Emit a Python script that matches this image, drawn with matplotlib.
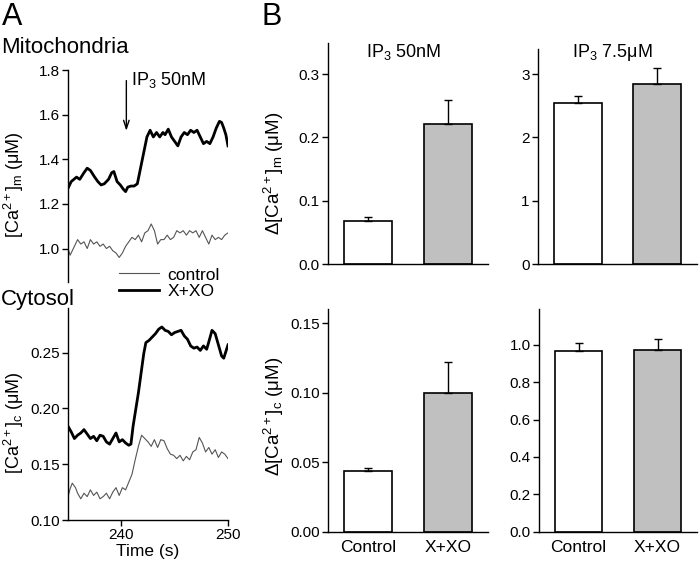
import matplotlib
matplotlib.use("Agg")
import matplotlib.pyplot as plt

plt.rcParams['font.family'] = ['Liberation Sans', 'DejaVu Sans']
plt.rcParams['mathtext.fontset'] = 'custom'
plt.rcParams['mathtext.rm'] = 'Liberation Sans'
plt.rcParams['mathtext.it'] = 'Liberation Sans:italic'
plt.rcParams['axes.linewidth'] = 1.0

# ---- traces (panel A) ----
mito_xo_t = [235.0, 235.3, 235.8, 236.1, 236.5, 236.8, 237.1, 237.5, 237.8, 238.1,
             238.4, 238.8, 239.1, 239.3, 239.6, 239.9, 240.2, 240.4, 240.6, 240.9,
             241.2, 241.5, 241.8, 242.1, 242.4, 242.7, 243.0, 243.3, 243.6, 243.9,
             244.1, 244.4, 244.7, 245.0, 245.3, 245.6, 245.9, 246.2, 246.5, 246.8,
             247.1, 247.4, 247.7, 248.0, 248.3, 248.6, 248.9, 249.2, 249.4, 249.6,
             249.8, 250.0]
mito_xo = [1.27, 1.30, 1.32, 1.31, 1.34, 1.36, 1.35, 1.32, 1.30, 1.285,
           1.29, 1.31, 1.34, 1.345, 1.30, 1.285, 1.265, 1.255, 1.275, 1.28,
           1.28, 1.29, 1.36, 1.43, 1.50, 1.53, 1.50, 1.52, 1.50, 1.52,
           1.51, 1.535, 1.50, 1.48, 1.46, 1.50, 1.52, 1.51, 1.53, 1.52,
           1.53, 1.50, 1.47, 1.48, 1.47, 1.50, 1.54, 1.57, 1.565, 1.54,
           1.51, 1.46]

mito_ctl_t = [235.0, 235.2, 235.5, 235.9, 236.2, 236.5, 236.8, 237.1, 237.4, 237.7,
              238.0, 238.3, 238.6, 238.9, 239.2, 239.5, 239.8, 240.1, 240.4, 240.7,
              241.0, 241.3, 241.6, 241.9, 242.2, 242.5, 242.8, 243.1, 243.4, 243.7,
              244.0, 244.3, 244.6, 244.9, 245.2, 245.5, 245.8, 246.1, 246.4, 246.7,
              247.0, 247.3, 247.6, 247.9, 248.2, 248.5, 248.8, 249.1, 249.4, 249.7,
              250.0]
mito_ctl = [1.00, 0.97, 1.00, 1.04, 1.02, 1.03, 1.00, 1.04, 1.02, 1.03,
            1.01, 1.02, 1.00, 1.01, 0.99, 0.98, 0.96, 0.98, 1.01, 1.03,
            1.05, 1.04, 1.06, 1.03, 1.07, 1.08, 1.11, 1.08, 1.02, 1.04,
            1.04, 1.06, 1.04, 1.05, 1.08, 1.07, 1.08, 1.06, 1.08, 1.07,
            1.08, 1.05, 1.08, 1.05, 1.02, 1.06, 1.04, 1.05, 1.04, 1.06,
            1.07]

cyto_xo_t = [235.0, 235.3, 235.6, 235.9, 236.2, 236.5, 236.8, 237.1, 237.4, 237.7,
             238.0, 238.3, 238.6, 238.9, 239.2, 239.5, 239.8, 240.1, 240.4, 240.7,
             240.9, 241.1, 241.4, 241.6, 241.9, 242.1, 242.3, 242.6, 242.9, 243.2,
             243.5, 243.8, 244.1, 244.4, 244.7, 245.0, 245.3, 245.6, 245.9, 246.2,
             246.5, 246.8, 247.1, 247.4, 247.7, 248.0, 248.3, 248.5, 248.8, 249.1,
             249.4, 249.6, 249.8, 250.0]
cyto_xo = [0.184, 0.179, 0.173, 0.176, 0.178, 0.181, 0.177, 0.173, 0.175, 0.171,
           0.176, 0.175, 0.170, 0.168, 0.173, 0.178, 0.170, 0.172, 0.169, 0.167,
           0.168, 0.184, 0.202, 0.214, 0.235, 0.249, 0.259, 0.261, 0.264, 0.267,
           0.271, 0.273, 0.270, 0.269, 0.266, 0.268, 0.269, 0.270, 0.265, 0.262,
           0.256, 0.254, 0.255, 0.252, 0.256, 0.253, 0.263, 0.270, 0.267, 0.257,
           0.247, 0.245, 0.251, 0.257]

cyto_ctl_t = [235.0, 235.2, 235.4, 235.7, 235.9, 236.2, 236.5, 236.8, 237.1, 237.4,
              237.7, 238.0, 238.3, 238.6, 238.9, 239.2, 239.5, 239.8, 240.1, 240.4,
              240.7, 241.0, 241.3, 241.6, 241.9, 242.2, 242.5, 242.8, 243.1, 243.4,
              243.7, 244.0, 244.3, 244.6, 244.9, 245.2, 245.5, 245.8, 246.1, 246.4,
              246.7, 247.0, 247.3, 247.6, 247.9, 248.2, 248.5, 248.8, 249.1, 249.4,
              249.7, 250.0]
cyto_ctl = [0.121, 0.128, 0.133, 0.129, 0.124, 0.119, 0.124, 0.121, 0.127, 0.122,
            0.125, 0.119, 0.121, 0.124, 0.119, 0.125, 0.129, 0.122, 0.129, 0.127,
            0.134, 0.141, 0.154, 0.166, 0.176, 0.173, 0.170, 0.166, 0.172, 0.165,
            0.172, 0.171, 0.164, 0.159, 0.158, 0.155, 0.158, 0.153, 0.157, 0.154,
            0.161, 0.163, 0.174, 0.169, 0.161, 0.165, 0.159, 0.163, 0.156, 0.161,
            0.159, 0.155]

# ---- bars (panel B) ----
groups = ['Control', 'X+XO']
mito_50nM = [0.068, 0.222]
mito_50nM_err = [0.006, 0.037]
mito_75uM = [2.55, 2.84]
mito_75uM_err = [0.11, 0.26]
cyto_50nM = [0.044, 0.0997]
cyto_50nM_err = [0.0019, 0.0226]
cyto_75uM = [0.967, 0.974]
cyto_75uM_err = [0.041, 0.057]

W, H = 700, 563
fig = plt.figure(figsize=(7, 5.63), dpi=100)


def box(x0, y0, x1, y1):
    # pixel box (top-left origin) -> figure fraction
    return [x0 / W, 1 - y1 / H, (x1 - x0) / W, (y1 - y0) / H]


def style(ax):
    for s in ['top', 'right']:
        ax.spines[s].set_visible(False)
    ax.tick_params(direction='out', length=4, width=1, labelsize=11, pad=2)


# Mitochondria trace
ax1 = fig.add_axes(box(68, 70, 228, 282))
style(ax1)
ax1.plot(mito_ctl_t, mito_ctl, color='#555555', lw=0.8)
ax1.plot(mito_xo_t, mito_xo, color='black', lw=2)
ax1.set_xlim(235, 250)
ax1.set_ylim(0.85, 1.8)
ax1.set_yticks([1.0, 1.2, 1.4, 1.6, 1.8])
ax1.set_yticklabels(['1.0', '1.2', '1.4', '1.6', '1.8'])
ax1.spines['bottom'].set_visible(False)
ax1.set_xticks([])
ax1.set_ylabel('[Ca$^{2+}$]$_{\\mathrm{m}}$ (\u03bcM)', fontsize=13)
ax1.yaxis.set_label_coords(-0.265, 0.46)
ax1.annotate('', xy=(240.47, 1.515), xytext=(240.47, 1.765),
             arrowprops=dict(arrowstyle='->,head_length=0.6,head_width=0.2',
                             lw=1, color='black'))
ax1.text(240.9, 1.757, 'IP$_3$ 50nM', fontsize=13, va='center', ha='left')

# Cytosol trace
ax2 = fig.add_axes(box(68, 308, 228, 520))
style(ax2)
l_ctl, = ax2.plot(cyto_ctl_t, cyto_ctl, color='#555555', lw=0.8)
l_xo, = ax2.plot(cyto_xo_t, cyto_xo, color='black', lw=2)
ax2.set_xlim(235, 250)
ax2.set_ylim(0.10, 0.29)
ax2.set_yticks([0.10, 0.15, 0.20, 0.25])
ax2.set_yticklabels(['0.10', '0.15', '0.20', '0.25'])
ax2.set_xticks([240, 250])
ax2.set_xlabel('Time (s)', fontsize=12.5, labelpad=1)
ax2.set_ylabel('[Ca$^{2+}$]$_{\\mathrm{c}}$ (\u03bcM)', fontsize=13)
ax2.yaxis.set_label_coords(-0.265, 0.46)

fig.legend([l_ctl, l_xo], ['control', 'X+XO'], loc='center left',
           bbox_to_anchor=(119 / W, 1 - 283 / H), frameon=False, fontsize=12.5,
           handlelength=2.3, labelspacing=0.05, handletextpad=0.5, borderpad=0,
           borderaxespad=0)


def bar_panel(rect, vals, errs, ylim, yticks, ylabels, title=None, title_y=0.96,
              xlabels=False, ylabel=None, ylabel_y=0.5):
    ax = fig.add_axes(rect)
    style(ax)
    xs = [0, 1]
    ax.bar(xs, vals, width=0.6, color=['white', '#c0c0c0'], edgecolor='black',
           linewidth=1.2, zorder=2)
    ax.errorbar(xs, vals, yerr=[[0, 0], errs], fmt='none', ecolor='black',
                elinewidth=1, capsize=3, capthick=1, zorder=3)
    ax.set_xlim(-0.5, 1.5)
    ax.set_ylim(*ylim)
    ax.set_yticks(yticks)
    ax.set_yticklabels(ylabels)
    ax.tick_params(axis='x', length=0)
    if xlabels:
        ax.set_xticks(xs)
        ax.set_xticklabels(groups, fontsize=12.5)
        ax.tick_params(axis='x', pad=6)
    else:
        ax.set_xticks([])
    if title:
        ax.text(0.47, title_y, title, transform=ax.transAxes, ha='center',
                va='center', fontsize=13)
    if ylabel:
        ax.set_ylabel(ylabel, fontsize=13.5)
        ax.yaxis.set_label_coords(-0.26, ylabel_y)
    return ax


bar_panel(box(328, 42.5, 488, 264), mito_50nM, mito_50nM_err, (0, 0.35),
          [0.0, 0.1, 0.2, 0.3], ['0.0', '0.1', '0.2', '0.3'],
          title='IP$_3$ 50nM', title_y=0.955,
          ylabel='\u0394[Ca$^{2+}$]$_{\\mathrm{m}}$ (\u03bcM)', ylabel_y=0.41)
bar_panel(box(538, 48.8, 697, 264), mito_75uM, mito_75uM_err, (0, 3.4),
          [0, 1, 2, 3], ['0', '1', '2', '3'],
          title='IP$_3$ 7.5\u03bcM', title_y=0.985)
bar_panel(box(328, 309.3, 488, 531.7), cyto_50nM, cyto_50nM_err, (0, 0.16),
          [0.0, 0.05, 0.10, 0.15], ['0.00', '0.05', '0.10', '0.15'],
          xlabels=True,
          ylabel='\u0394[Ca$^{2+}$]$_{\\mathrm{c}}$ (\u03bcM)', ylabel_y=0.52)
bar_panel(box(539, 309.3, 697, 531.7), cyto_75uM, cyto_75uM_err, (0, 1.19),
          [0.0, 0.2, 0.4, 0.6, 0.8, 1.0], ['0.0', '0.2', '0.4', '0.6', '0.8', '1.0'],
          xlabels=True)

# panel letters and headings
fig.text(2 / W, 1 - 25 / H, 'A', fontsize=22, ha='left', va='baseline')
fig.text(261 / W, 1 - 25 / H, 'B', fontsize=22, ha='left', va='baseline')
fig.text(1 / W, 1 - 53 / H, 'Mitochondria', fontsize=16, ha='left', va='baseline')
fig.text(1 / W, 1 - 305 / H, 'Cytosol', fontsize=16, ha='left', va='baseline')

fig.savefig('out.png', dpi=100)
